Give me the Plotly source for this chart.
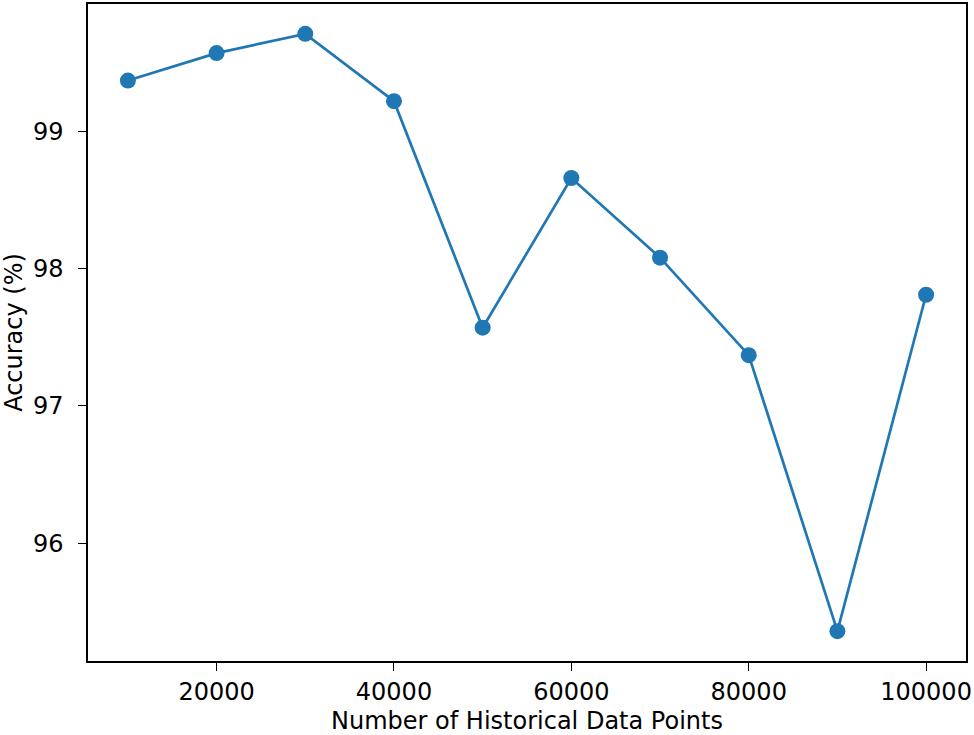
import plotly.graph_objects as go

# Accuracy vs. size of historical data
data_points = [10000, 20000, 30000, 40000, 50000, 60000, 70000, 80000, 90000, 100000]
accuracy = [99.37, 99.57, 99.71, 99.22, 97.57, 98.66, 98.08, 97.37, 95.36, 97.81]

x_ticks = [20000, 40000, 60000, 80000, 100000]
y_ticks = [96, 97, 98, 99]

FONT = "DejaVu Sans"
BLUE = "#1f77b4"
FS = 24

fig = go.Figure()
fig.add_trace(go.Scatter(
    x=data_points, y=accuracy, mode="lines+markers",
    line=dict(color=BLUE, width=2.7),
    marker=dict(color=BLUE, size=16),
    showlegend=False,
))

axis_common = dict(
    showgrid=False, zeroline=False, automargin=False,
    showline=True, linecolor="black", linewidth=1.5, mirror=True,
    ticks="outside", ticklen=8, tickwidth=1.3, tickcolor="black",
    tickfont=dict(family=FONT, size=FS, color="black"),
)

fig.update_xaxes(
    range=[5500, 104500], tickvals=x_ticks, ticktext=[str(v) for v in x_ticks],
    title=dict(text="Number of Historical Data Points", font=dict(family=FONT, size=FS, color="black"), standoff=10),
    **axis_common,
)
fig.update_yaxes(
    range=[95.1425, 99.9275], tickvals=y_ticks, ticktext=[str(v) for v in y_ticks],
    ticklabelstandoff=10,
    title=dict(text="Accuracy (%)", font=dict(family=FONT, size=FS, color="black"), standoff=4),
    **axis_common,
)

fig.update_layout(
    width=974, height=735,
    margin=dict(l=88, r=8, t=4, b=74),
    plot_bgcolor="white", paper_bgcolor="white",
    font=dict(family=FONT, color="black"),
)

# drop the default 8px body margin so the figure sits at the page corner
fig.write_html(
    "out.html",
    config={"displayModeBar": False},
    post_script="document.body.style.margin='0';document.body.style.overflow='hidden';",
)
